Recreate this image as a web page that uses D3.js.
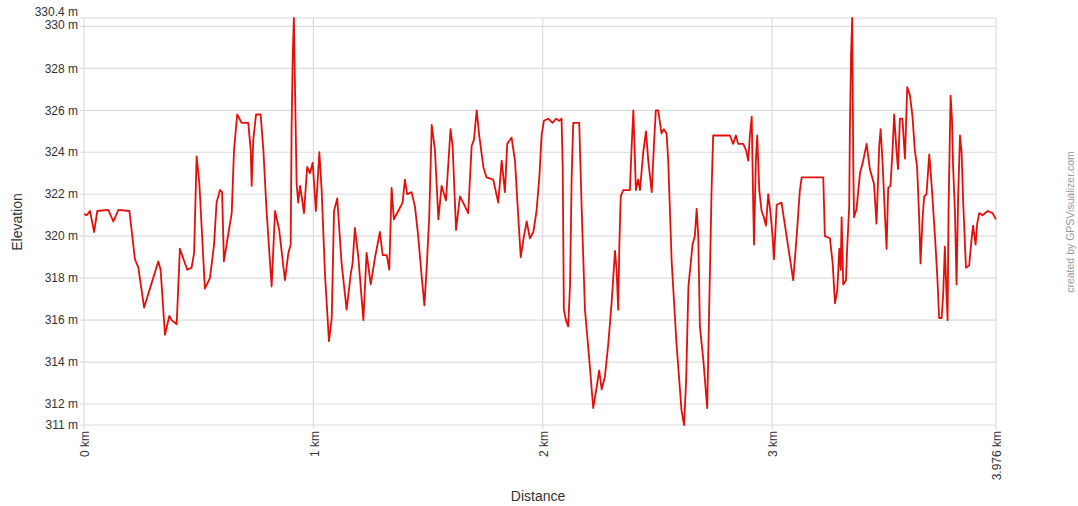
<!DOCTYPE html>
<html><head><meta charset="utf-8">
<script src="https://cdn.jsdelivr.net/npm/d3@7"></script>
<style>
html,body{margin:0;padding:0;background:#fff;}
svg{display:block;font-family:"Liberation Sans",Arial,sans-serif;}
</style></head>
<body><svg id="c" width="1078" height="506"></svg>
<script>
const distKm = [0,0.012,0.026,0.044,0.058,0.106,0.128,0.150,0.198,0.222,0.237,0.262,0.324,0.334,0.353,0.372,0.382,0.404,0.418,0.450,0.469,0.480,0.491,0.503,0.527,0.549,0.567,0.578,0.593,0.602,0.610,0.629,0.644,
0.654,0.668,0.687,0.716,0.727,0.731,0.738,0.750,0.770,0.782,0.796,0.818,0.833,0.851,0.876,0.891,0.901,0.905,0.910,0.915,0.920,0.927,0.934,0.942,0.949,0.959,0.973,0.985,0.997,1.011,1.026,1.036,1.051,1.068,1.080,1.090,1.104,1.123,1.145,1.163,1.171,1.181,1.196,1.218,1.232,1.250,1.269,1.290,1.302,1.320,1.331,
1.341,1.351,1.370,1.389,1.399,1.409,1.428,1.443,1.457,1.472,1.484,1.494,1.505,1.516,1.530,1.545,1.559,1.578,1.598,1.607,1.622,1.639,1.653,1.675,1.690,1.700,1.712,1.723,1.741,1.755,1.784,1.806,1.821,1.835,1.845,1.864,1.879,1.889,1.904,1.918,1.930,1.944,1.959,1.973,1.985,
1.995,2.005,2.024,2.043,2.058,2.072,2.082,2.087,2.092,2.101,2.111,2.119,2.126,2.133,2.159,2.170,2.184,2.203,2.220,2.235,2.246,2.257,2.271,2.286,2.300,2.315,2.322,2.329,2.334,2.340,2.351,2.380,2.388,2.395,2.402,2.406,2.416,2.424,2.438,2.450,2.460,2.475,2.485,2.493,2.503,2.518,2.528,2.540,2.547,2.562,2.583,2.605,2.616,2.625,
2.635,2.645,2.653,2.663,2.671,2.678,2.685,2.700,2.717,2.726,2.732,2.736,2.743,2.772,2.802,2.816,2.830,2.842,2.852,2.874,2.886,2.896,2.903,2.911,2.918,2.921,2.929,2.935,2.944,2.954,2.964,2.973,2.983,2.993,3.002,3.008,3.020,3.041,3.063,3.092,3.107,3.121,3.129,3.223,3.230,3.252,3.264,
3.274,3.284,3.293,3.299,3.303,3.310,3.322,3.327,3.336,3.339,3.344,3.349,3.354,3.357,3.368,3.383,3.397,3.412,3.426,3.444,3.455,3.467,3.473,3.481,3.491,3.499,3.506,3.516,3.525,3.532,3.542,3.549,3.557,3.568,3.579,3.589,3.601,3.612,3.622,3.632,3.641,3.647,3.656,3.663,3.673,3.685,3.695,3.710,3.720,3.728,3.739,3.746,3.753,3.760,3.765,3.769,3.778,3.784,3.789,3.797,3.804,3.811,3.819,3.826,3.833,3.845,3.859,3.869,3.876,3.887,3.894,3.903,3.917,3.940,3.961,3.976];
const elevM = [321.05,321.0,321.2,320.2,321.2,321.25,320.7,321.25,321.2,318.9,318.5,316.6,318.8,318.4,315.3,316.2,316.0,315.8,319.4,318.4,318.5,319.2,323.8,322.5,317.5,318.0,319.6,321.6,322.2,322.1,318.8,320.1,321.1,
324.1,325.8,325.4,325.4,324.1,322.4,324.6,325.8,325.8,324.1,321.2,317.6,321.2,320.3,317.9,319.2,319.6,325.1,328.6,330.4,327.0,322.5,321.6,322.4,321.9,321.1,323.3,323.0,323.5,321.2,324.0,322.2,318.1,315.0,316.1,321.2,321.8,318.7,316.5,318.2,318.7,320.4,319.0,316.0,319.2,317.7,319.0,320.2,319.1,319.1,318.4,
322.3,320.8,321.2,321.6,322.7,322.0,322.1,321.4,320.0,318.1,316.7,318.5,320.9,325.3,324.1,320.8,322.4,321.7,325.1,324.3,320.3,321.9,321.6,321.1,324.3,324.6,326.0,324.8,323.3,322.8,322.7,321.6,323.6,322.1,324.4,324.7,323.6,321.7,319.0,320.0,320.7,319.9,320.2,321.2,322.8,
324.8,325.5,325.6,325.4,325.6,325.5,325.6,323.3,316.5,316.0,315.7,317.7,322.8,325.4,325.4,321.2,316.5,314.1,311.8,312.8,313.6,312.7,313.3,314.9,316.8,319.3,318.4,316.5,319.6,321.9,322.2,322.2,324.4,326.0,323.6,322.2,322.7,322.2,324.0,325.0,323.6,322.1,324.4,326.0,326.0,324.9,325.1,324.9,323.6,318.8,314.9,311.7,311.0,313.1,
317.6,318.7,319.6,320.0,321.3,320.0,315.7,314.1,311.8,316.8,320.0,322.2,324.8,324.8,324.8,324.8,324.4,324.8,324.4,324.4,324.1,323.6,324.8,325.7,321.2,319.6,323.6,324.8,322.2,321.2,320.9,320.5,322.0,321.1,320.0,318.9,321.5,321.6,320.0,317.9,320.0,322.2,322.8,322.8,320.0,319.9,318.7,
316.8,317.4,319.4,318.4,320.9,317.7,317.9,319.4,321.4,325.1,328.6,330.4,323.2,320.9,321.3,323.0,323.6,324.4,323.2,322.5,320.6,324.3,325.1,323.6,321.2,319.4,322.3,322.4,324.1,325.8,324.1,323.2,325.6,325.6,323.7,327.1,326.7,325.7,324.1,323.3,320.9,318.7,320.9,321.9,322.0,323.9,322.5,320.0,318.1,316.1,316.1,317.3,319.5,317.3,316.0,321.2,326.7,325.6,323.3,321.2,317.7,321.9,324.8,324.0,321.6,318.5,318.6,319.8,320.5,319.6,320.6,321.1,321.0,321.2,321.1,320.8];
const yTicks = [311,312,314,316,318,320,322,324,326,328,330,330.4];
const yTickLabels = ["311 m","312 m","314 m","316 m","318 m","320 m","322 m","324 m","326 m","328 m","330 m","330.4 m"];
const xTicks = [0,1,2,3,3.976];
const xTickLabels = ["0 km","1 km","2 km","3 km","3.976 km"];

const svg = d3.select("#c");
const x = d3.scaleLinear().domain([0,3.976]).range([84,996]);
const y = d3.scaleLinear().domain([311,330.4]).range([425,18]);

svg.append("g").selectAll("line").data(yTicks).join("line")
  .attr("x1",80).attr("x2",996).attr("y1",d=>y(d)).attr("y2",d=>y(d))
  .attr("stroke","#dcdcdc").attr("stroke-width",1.2);
svg.append("g").selectAll("line").data(xTicks).join("line")
  .attr("x1",d=>x(d)).attr("x2",d=>x(d)).attr("y1",18).attr("y2",429)
  .attr("stroke","#dcdcdc").attr("stroke-width",1.2);

const yOff = {330:-2, 330.4:-6};
svg.append("g").selectAll("text").data(yTicks).join("text")
  .attr("x",78).attr("y",d=>y(d)+(yOff[d]||0)).attr("dy","0.35em")
  .attr("text-anchor","end").attr("font-size",12).attr("fill","#333")
  .text((d,i)=>yTickLabels[i]);

svg.append("g").selectAll("text").data(xTicks).join("text")
  .attr("transform",d=>`translate(${x(d)+1},431) rotate(-90)`)
  .attr("dy","0.35em").attr("text-anchor","end").attr("font-size",12).attr("fill","#333")
  .text((d,i)=>xTickLabels[i]);

const line = d3.line().x((d,i)=>x(distKm[i])).y((d,i)=>y(elevM[i]));
svg.append("path").datum(elevM).attr("d",line)
  .attr("fill","none").attr("stroke","#e50f0a").attr("stroke-width",1.8).attr("stroke-linejoin","round");

svg.append("text").attr("transform","translate(22,222) rotate(-90)").attr("text-anchor","middle")
  .attr("font-size",14).attr("fill","#333").text("Elevation");
svg.append("text").attr("x",538).attr("y",501).attr("text-anchor","middle")
  .attr("font-size",14).attr("fill","#333").text("Distance");
svg.append("text").attr("transform","translate(1074,222) rotate(-90)").attr("text-anchor","middle")
  .attr("font-size",10.5).attr("fill","#999").text("created by GPSVisualizer.com");
</script></body></html>
